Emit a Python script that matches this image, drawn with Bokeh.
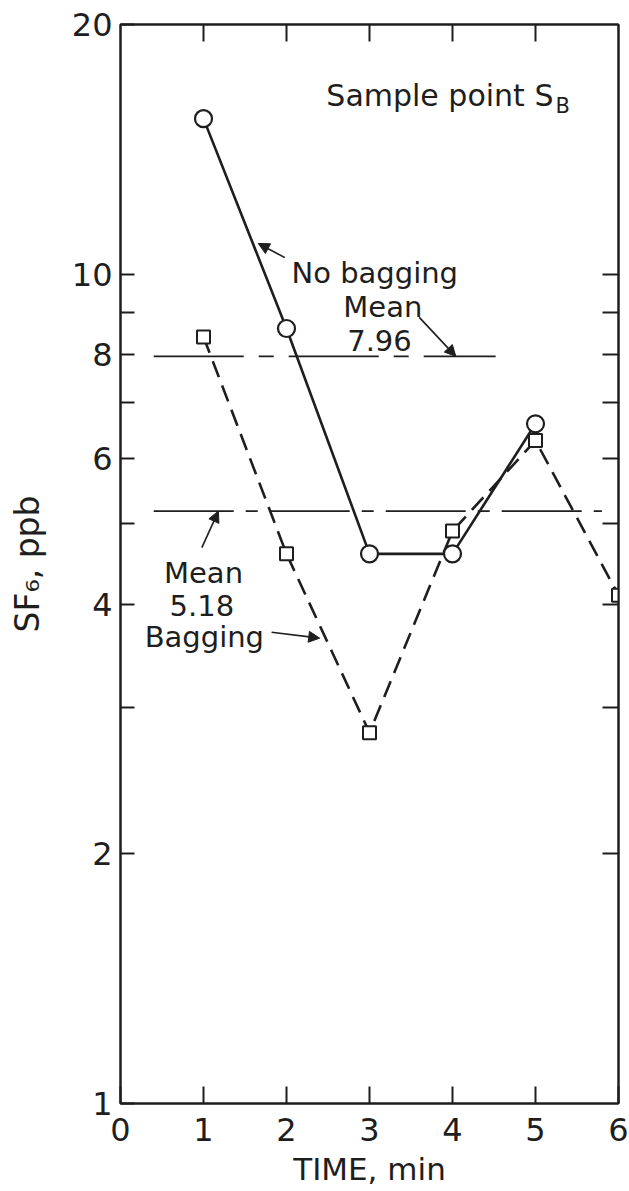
from bokeh.plotting import figure
from bokeh.models import (Range1d, FixedTicker, LogAxis, LinearAxis, Arrow,
                          NormalHead, BasicTickFormatter, ColumnDataSource,
                          CustomJSTickFormatter)
from bokeh.core.properties import value
from bokeh.embed import file_html
from bokeh.resources import INLINE

# ---------------- data ----------------
time_nobag = [1, 2, 3, 4, 5]
sf6_nobag = [15.4, 8.6, 4.6, 4.6, 6.6]
time_bag = [1, 2, 3, 4, 5, 6]
sf6_bag = [8.4, 4.6, 2.8, 4.9, 6.3, 4.1]
mean_nobag = 7.96
mean_bag = 5.18
mean_nobag_span = [0.40, 4.52]
mean_bag_span = [0.40, 5.80]

x_ticks = [0, 1, 2, 3, 4, 5, 6]
y_ticks = [1, 2, 4, 6, 8, 10, 20]
y_minor = [3, 5, 7, 9]
side_ticks = [2, 3, 4, 5, 6, 7, 8, 9, 10]
top_ticks = [1, 2, 3, 4, 5]

FONT = "DejaVu Sans"
INK = "#1e1e1e"

p = figure(frame_width=498, frame_height=1079,
           x_range=Range1d(0, 6), y_range=Range1d(1, 20), y_axis_type="log",
           output_backend="svg", toolbar_location=None,
           min_border_left=120, min_border_right=10,
           min_border_top=24, min_border_bottom=80,
           background_fill_color="white", border_fill_color="white")
p.grid.visible = False
p.outline_line_color = INK
p.outline_line_width = 2

# bottom axis
xa = p.xaxis[0]
xa.ticker = FixedTicker(ticks=x_ticks)
xa.axis_label = "TIME, min"
xa.axis_label_text_font = FONT
xa.axis_label_text_font_style = "normal"
xa.axis_label_text_font_size = "31px"
xa.axis_label_text_color = INK
xa.axis_label_standoff = 7
xa.major_label_text_font = FONT
xa.major_label_text_font_size = "32px"
xa.major_label_text_color = INK
xa.major_label_standoff = 14
xa.major_tick_in = 17
xa.major_tick_out = 0
xa.minor_tick_in = 0
xa.minor_tick_out = 0
xa.axis_line_width = 2
xa.major_tick_line_width = 2
xa.axis_line_color = INK
xa.major_tick_line_color = INK

# left axis
ya = p.yaxis[0]
ya.ticker = FixedTicker(ticks=y_ticks, minor_ticks=y_minor)
ya.formatter = BasicTickFormatter(use_scientific=False)
ya.axis_label = "SF₆, ppb"
ya.axis_label_text_font = FONT
ya.axis_label_text_font_style = "normal"
ya.axis_label_text_font_size = "33px"
ya.axis_label_text_color = INK
ya.axis_label_standoff = 22
ya.major_label_text_font = FONT
ya.major_label_text_font_size = "32px"
ya.major_label_text_color = INK
ya.major_label_standoff = 8
ya.major_tick_in = 14
ya.major_tick_out = 0
ya.minor_tick_in = 14
ya.minor_tick_out = 0
ya.axis_line_width = 2
ya.major_tick_line_width = 2
ya.minor_tick_line_width = 2
ya.axis_line_color = INK
ya.major_tick_line_color = INK
ya.minor_tick_line_color = INK

blank = CustomJSTickFormatter(code="return '';")

# right axis (ticks only)
ra = LogAxis(ticker=FixedTicker(ticks=side_ticks), formatter=blank)
ra.major_label_standoff = 0
ra.major_tick_in = 16
ra.major_tick_out = 0
ra.minor_tick_in = 0
ra.minor_tick_out = 0
ra.axis_line_width = 2
ra.major_tick_line_width = 2
ra.axis_line_color = INK
ra.major_tick_line_color = INK
p.add_layout(ra, "right")

# top axis (ticks only)
ta = LinearAxis(ticker=FixedTicker(ticks=top_ticks), formatter=blank)
ta.major_label_standoff = 0
ta.major_tick_in = 17
ta.major_tick_out = 0
ta.minor_tick_in = 0
ta.minor_tick_out = 0
ta.axis_line_width = 2
ta.major_tick_line_width = 2
ta.axis_line_color = INK
ta.major_tick_line_color = INK
p.add_layout(ta, "above")

# mean lines
p.line(mean_nobag_span, [mean_nobag, mean_nobag], line_color=INK,
       line_width=1.8, line_dash="90 15 15 15")
p.line(mean_bag_span, [mean_bag, mean_bag], line_color=INK,
       line_width=1.8, line_dash="80 12 12 12")

# series
src_nb = ColumnDataSource(dict(x=time_nobag, y=sf6_nobag))
src_b = ColumnDataSource(dict(x=time_bag, y=sf6_bag))
p.line("x", "y", source=src_b, line_color=INK, line_width=2.6, line_dash="17 9")
p.line("x", "y", source=src_nb, line_color=INK, line_width=2.6)
p.scatter("x", "y", source=src_b, marker="square", size=13,
          fill_color="white", line_color=INK, line_width=2)
p.scatter("x", "y", source=src_nb, marker="circle", size=17,
          fill_color="white", line_color=INK, line_width=2.2)

# text annotations
def txt(x, y, s, size, align="center"):
    p.text(x=[x], y=[y], text=[s], text_font=value(FONT),
           text_font_size=size, text_color=INK, text_align=align,
           text_baseline="alphabetic")

txt(2.48, 16.4, "Sample point S", "30px", "left")
txt(5.24, 15.95, "B", "21px", "left")
txt(2.06, 10.02, "No bagging", "29px", "left")
txt(3.16, 9.12, "Mean", "29px")
txt(3.12, 8.32, "7.96", "29px")
txt(1.00, 4.36, "Mean", "29px")
txt(0.98, 3.99, "5.18", "29px")
txt(1.01, 3.65, "Bagging", "29px")

# arrows
def arr(x0, y0, x1, y1):
    p.add_layout(Arrow(end=NormalHead(size=11, fill_color=INK, line_color=INK,
                                      line_width=1),
                       x_start=x0, y_start=y0, x_end=x1, y_end=y1,
                       line_color=INK, line_width=1.6))

arr(1.98, 10.47, 1.66, 10.89)
arr(3.60, 8.87, 4.04, 7.96)
arr(0.98, 4.68, 1.18, 5.18)
arr(1.82, 3.70, 2.40, 3.64)

open("out.html", "w").write(file_html(p, INLINE))
